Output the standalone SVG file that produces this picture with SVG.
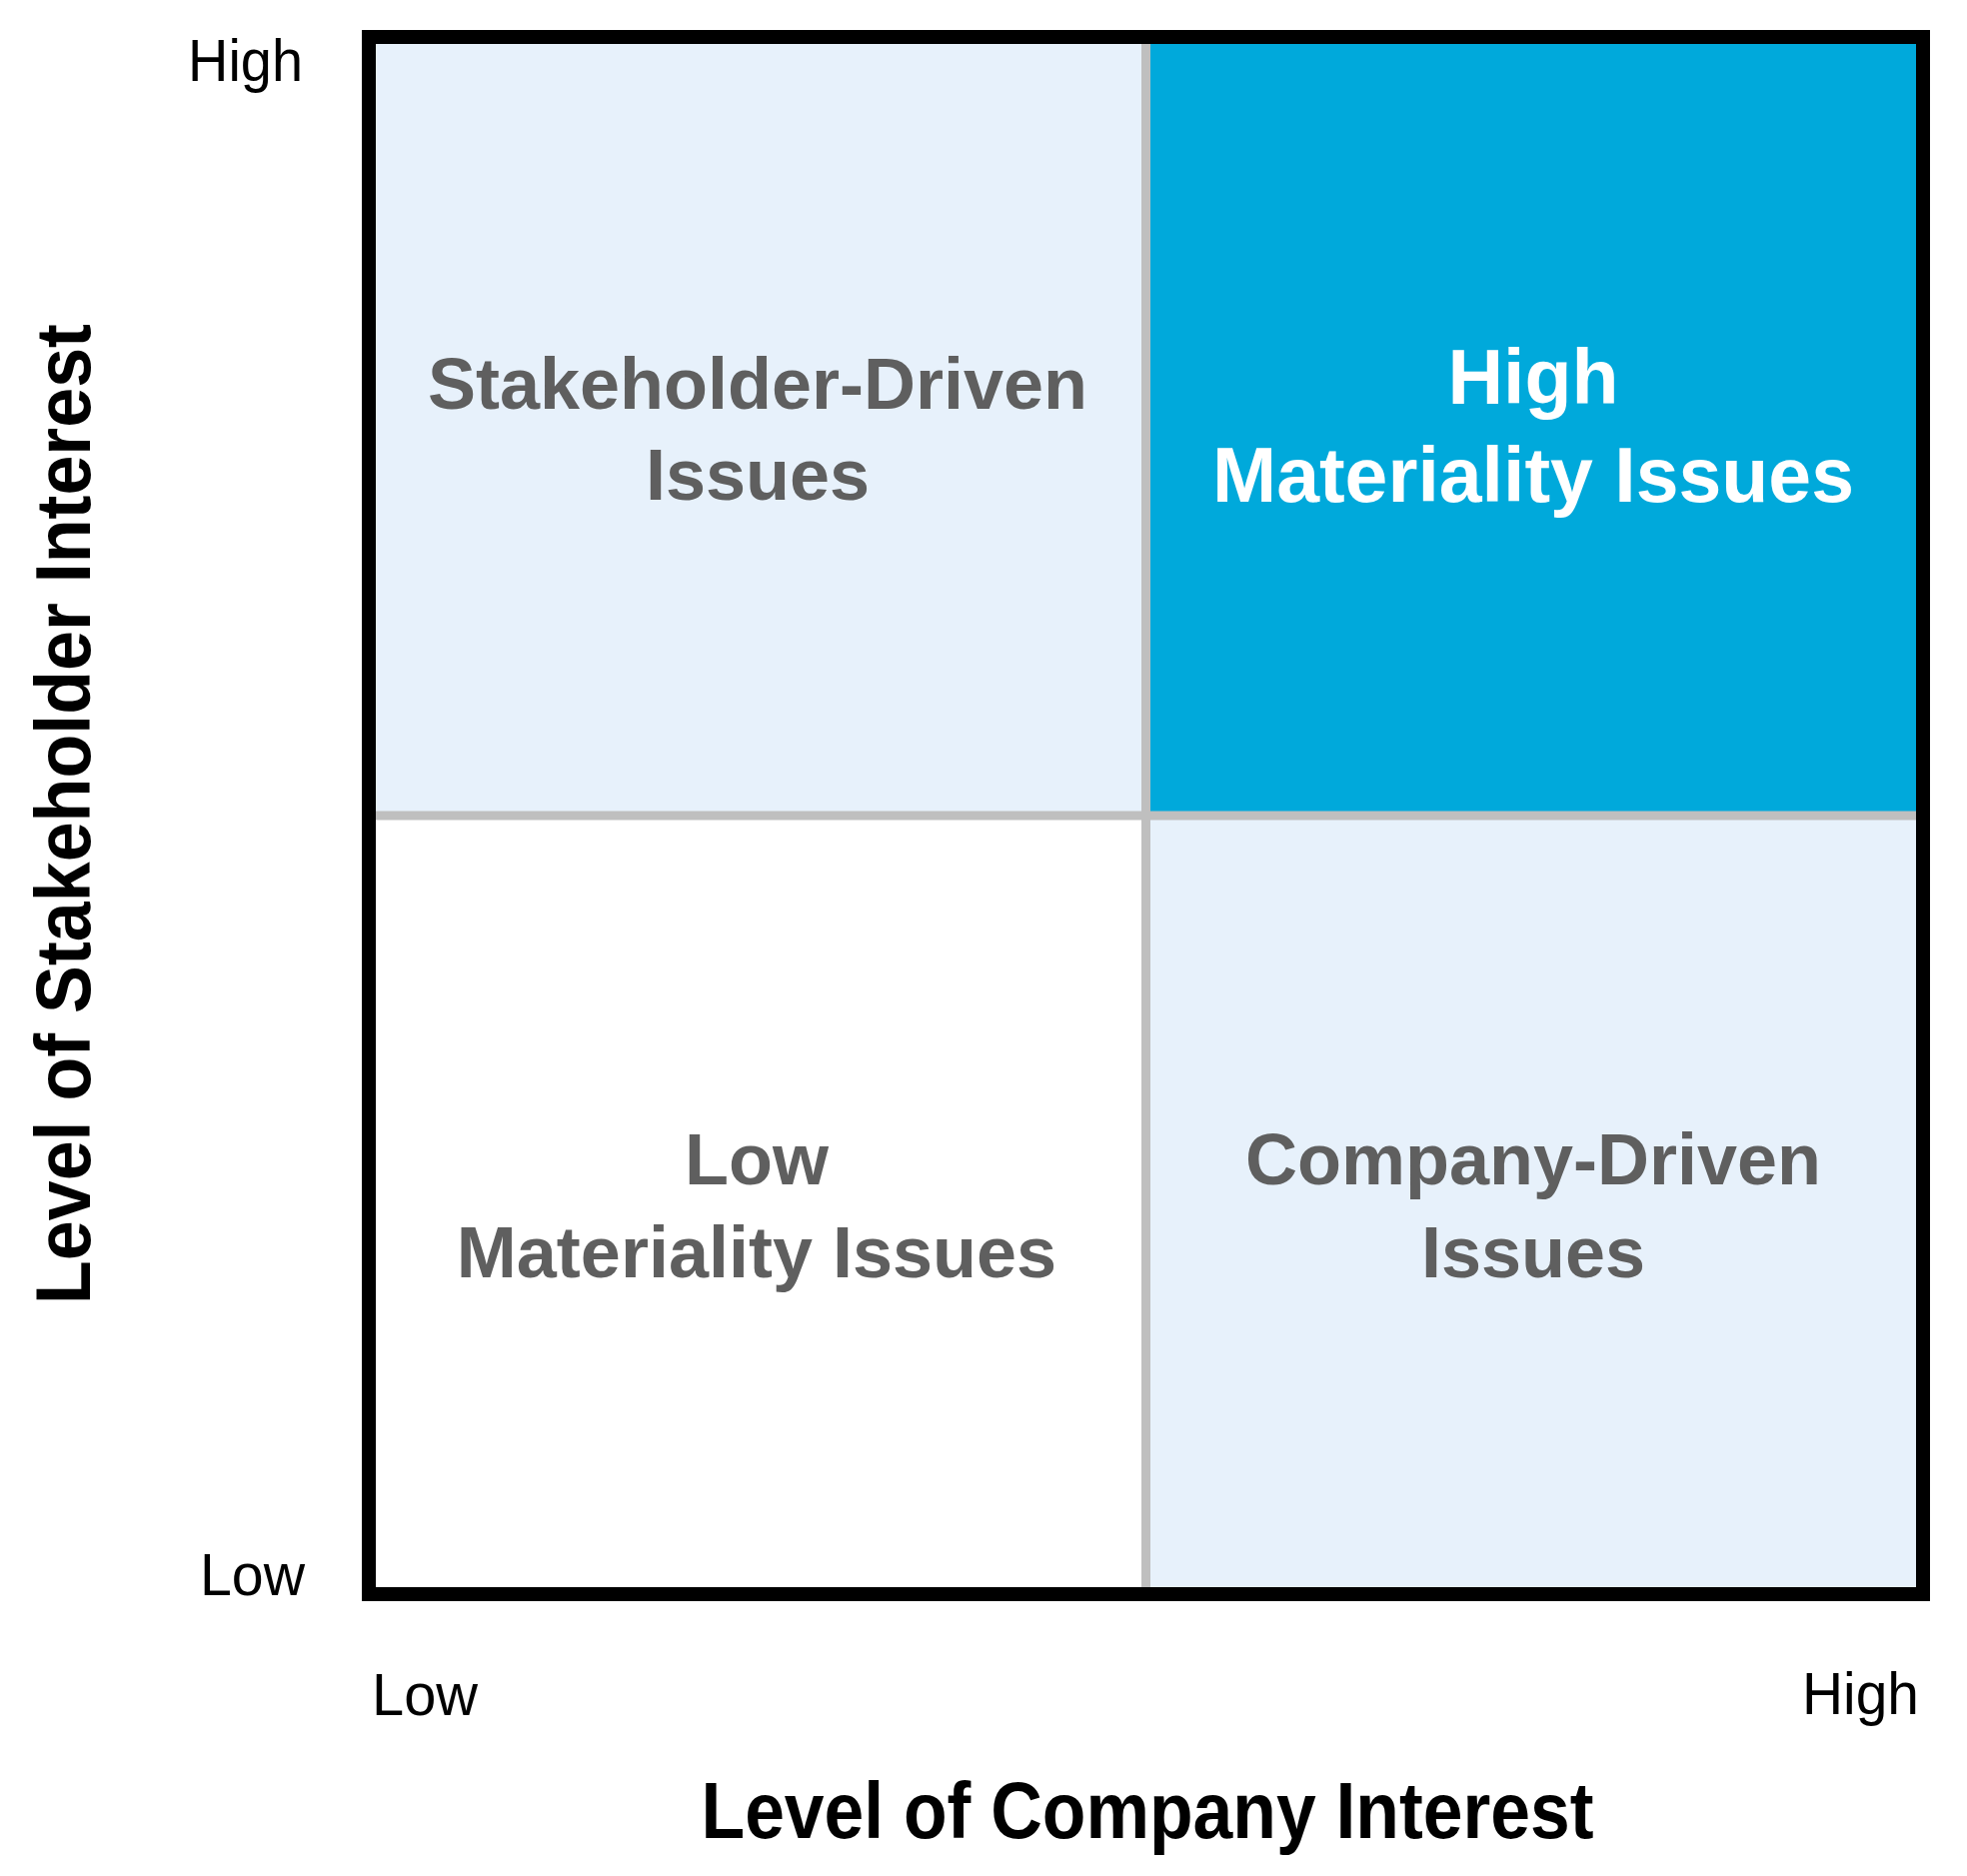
<svg xmlns="http://www.w3.org/2000/svg" width="1968" height="1877" viewBox="0 0 1968 1877">
<style>
.q{font-family:"Liberation Sans",Arial,sans-serif;font-weight:bold;text-anchor:middle}
.g{fill:#5f5f5f;font-size:72px}
.w{fill:#ffffff;font-size:77px}
.tick{font-family:"Liberation Sans",Arial,sans-serif;font-size:60px;fill:#000}
.title{font-family:"Liberation Sans",Arial,sans-serif;font-weight:bold;fill:#000;text-anchor:middle}
.grid{stroke:#bfbfbf;stroke-width:9;fill:none}
</style>
<rect width="1968" height="1877" fill="#ffffff"/>
<g id="quadrant-stakeholder-driven">
<rect x="369" y="37" width="778" height="779" fill="#e7f1fb"/>
<text class="q g" x="758" y="409">Stakeholder-Driven</text>
<text class="q g" x="758" y="500">Issues</text>
</g>
<g id="quadrant-high-materiality">
<rect x="1147" y="37" width="777" height="779" fill="#00a9db"/>
<text class="q w" x="1534" y="404">High</text>
<text class="q w" x="1534" y="502">Materiality Issues</text>
</g>
<g id="quadrant-low-materiality">
<rect x="369" y="816" width="778" height="779" fill="#ffffff"/>
<text class="q g" x="757" y="1185">Low</text>
<text class="q g" x="757" y="1278">Materiality Issues</text>
</g>
<g id="quadrant-company-driven">
<rect x="1147" y="816" width="777" height="779" fill="#e7f1fb"/>
<text class="q g" x="1534" y="1185">Company-Driven</text>
<text class="q g" x="1534" y="1278">Issues</text>
</g>
<g id="grid-lines">
<line class="grid" x1="1146.5" y1="40" x2="1146.5" y2="1592"/>
<line class="grid" x1="372" y1="816" x2="1921" y2="816"/>
</g>
<g id="frame">
<rect x="369" y="37" width="1555" height="1558" fill="none" stroke="#000" stroke-width="14"/>
</g>
<g id="axis-labels">
<text class="tick" x="188" y="81" textLength="115" lengthAdjust="spacingAndGlyphs">High</text>
<text class="tick" x="200" y="1596" textLength="105" lengthAdjust="spacingAndGlyphs">Low</text>
<text class="tick" x="372" y="1716" textLength="106" lengthAdjust="spacingAndGlyphs">Low</text>
<text class="tick" x="1803" y="1715" textLength="117" lengthAdjust="spacingAndGlyphs">High</text>
<text class="title" x="1148" y="1839" font-size="79" textLength="893" lengthAdjust="spacingAndGlyphs">Level of Company Interest</text>
<text class="title" transform="translate(90 814.5) rotate(-90)" x="0" y="0" font-size="77" textLength="981" lengthAdjust="spacingAndGlyphs">Level of Stakeholder Interest</text>
</g>
</svg>
